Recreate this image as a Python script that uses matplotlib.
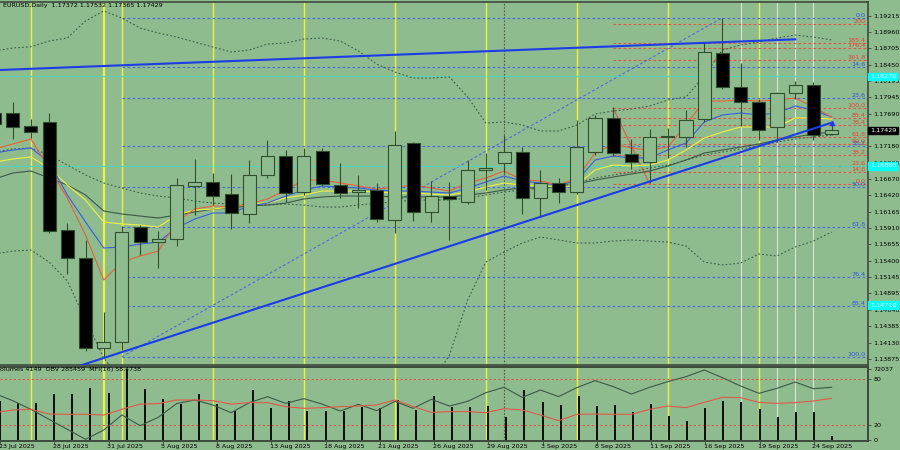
import matplotlib
matplotlib.use('Agg')
import matplotlib.pyplot as plt
import matplotlib.transforms as mtransforms
import pandas as pd

bg = '#8fbc8f'
dark = '#2f4f2f'

# daily bars 23 Jul .. 25 Sep 2025
days = pd.bdate_range('2025-07-23', '2025-09-25')
xs = list(range(len(days)))

opens = [1.17700, 1.17701, 1.17503, 1.17556, 1.15880, 1.15449, 1.14039, 1.14142, 1.15932, 1.15693,
         1.15735, 1.16565, 1.16632, 1.16436, 1.16129, 1.16731, 1.17032, 1.16467, 1.17114, 1.16580,
         1.16471, 1.16503, 1.16036, 1.17229, 1.16165, 1.16409, 1.16321, 1.16809, 1.16927, 1.17099,
         1.16383, 1.16607, 1.16476, 1.17099, 1.17618, 1.17063, 1.16938, 1.17340, 1.17323, 1.17603,
         1.18630, 1.18110, 1.17877, 1.17478, 1.18007, 1.18132, 1.17372]
highs = [1.17825, 1.17872, 1.17607, 1.17701, 1.15984, 1.15725, 1.14604, 1.15942, 1.15958, 1.15865,
         1.16685, 1.16980, 1.16772, 1.16752, 1.16969, 1.17281, 1.17125, 1.17151, 1.17151, 1.16927,
         1.16736, 1.16616, 1.17421, 1.17254, 1.16643, 1.16632, 1.16969, 1.17083, 1.17358, 1.17176,
         1.16814, 1.16685, 1.17592, 1.17670, 1.17789, 1.17292, 1.17447, 1.17472, 1.17747, 1.18795,
         1.19174, 1.18474, 1.17914, 1.18028, 1.18199, 1.18188, 1.17532]
lows = [1.17358, 1.17296, 1.17312, 1.15838, 1.15196, 1.13997, 1.13889, 1.14013, 1.15491, 1.15284,
        1.15631, 1.16114, 1.16269, 1.15891, 1.15984, 1.16689, 1.16316, 1.16425, 1.16565, 1.16383,
        1.16218, 1.16009, 1.15829, 1.16025, 1.16009, 1.15725, 1.16285, 1.16503, 1.16762, 1.16124,
        1.16078, 1.16296, 1.16436, 1.17047, 1.17032, 1.16825, 1.16616, 1.16996, 1.17176, 1.17565,
        1.18070, 1.17498, 1.17281, 1.17254, 1.17914, 1.17281, 1.17365]
closes = [1.17530, 1.17483, 1.17410, 1.15869, 1.15449, 1.14039, 1.14133, 1.15854, 1.15698, 1.15735,
          1.16580, 1.16632, 1.16409, 1.16140, 1.16731, 1.17032, 1.16461, 1.17036, 1.16596, 1.16451,
          1.16503, 1.16047, 1.17203, 1.16165, 1.16409, 1.16367, 1.16814, 1.16845, 1.17089, 1.16383,
          1.16607, 1.16476, 1.17176, 1.17618, 1.17074, 1.16943, 1.17323, 1.17324, 1.17592, 1.18655,
          1.18101, 1.17877, 1.17436, 1.18017, 1.18132, 1.17358, 1.17429]

# moving averages / bands
ma_red = [1.17141, 1.17218, 1.17296, 1.16845, 1.16378, 1.15802, 1.15102, 1.15382, 1.15476, 1.15553,
          1.16005, 1.16207, 1.16254, 1.16238, 1.16285, 1.16363, 1.16503, 1.16658, 1.16658, 1.16612,
          1.16565, 1.16518, 1.16549, 1.16580, 1.16534, 1.16487, 1.16612, 1.16689, 1.16798, 1.16658,
          1.16643, 1.16580, 1.16689, 1.17078, 1.17218, 1.17156, 1.17125, 1.17172, 1.17514, 1.17887,
          1.17887, 1.17903, 1.17887, 1.17903, 1.17934, 1.17794, 1.17638]
ma_blue = [1.17078, 1.17125, 1.17156, 1.16938, 1.16425, 1.16005, 1.15600, 1.15616, 1.15662, 1.15693,
           1.15911, 1.16051, 1.16145, 1.16145, 1.16254, 1.16300, 1.16409, 1.16503, 1.16565, 1.16549,
           1.16534, 1.16503, 1.16487, 1.16487, 1.16471, 1.16456, 1.16534, 1.16627, 1.16720, 1.16643,
           1.16612, 1.16580, 1.16643, 1.16969, 1.17032, 1.17001, 1.17001, 1.17125, 1.17234, 1.17561,
           1.17670, 1.17701, 1.17670, 1.17701, 1.17810, 1.17747, 1.17638]
ma_yellow = [1.16938, 1.16985, 1.17016, 1.16845, 1.16580, 1.16347, 1.16005, 1.15974, 1.15958, 1.15927,
             1.16114, 1.16191, 1.16207, 1.16238, 1.16285, 1.16300, 1.16378, 1.16425, 1.16487, 1.16487,
             1.16487, 1.16471, 1.16456, 1.16456, 1.16440, 1.16425, 1.16471, 1.16549, 1.16612, 1.16580,
             1.16565, 1.16549, 1.16580, 1.16814, 1.16892, 1.16876, 1.16892, 1.16969, 1.17125, 1.17312,
             1.17405, 1.17483, 1.17483, 1.17483, 1.17623, 1.17623, 1.17607]
ma_dark = [1.16674, 1.16767, 1.16798, 1.16689, 1.16580, 1.16425, 1.16176, 1.16129, 1.16098, 1.16067,
           1.16114, 1.16160, 1.16207, 1.16223, 1.16254, 1.16269, 1.16300, 1.16363, 1.16394, 1.16409,
           1.16409, 1.16409, 1.16394, 1.16394, 1.16394, 1.16394, 1.16425, 1.16456, 1.16503, 1.16534,
           1.16534, 1.16549, 1.16596, 1.16658, 1.16705, 1.16752, 1.16798, 1.16876, 1.16969, 1.17078,
           1.17125, 1.17172, 1.17218, 1.17281, 1.17327, 1.17374, 1.17405]
bb_upper = [1.18665, 1.18712, 1.18732, 1.18821, 1.18868, 1.19132, 1.19288, 1.19179, 1.19023, 1.18946,
            1.18883, 1.18805, 1.18728, 1.18650, 1.18681, 1.18774, 1.18790, 1.18852, 1.18868, 1.18821,
            1.18665, 1.18463, 1.18339, 1.18245, 1.18245, 1.18261, 1.17950, 1.17545, 1.17561, 1.17514,
            1.17421, 1.17421, 1.17514, 1.17685, 1.17732, 1.17763, 1.17810, 1.17903, 1.17950, 1.18276,
            1.18681, 1.18759, 1.18805, 1.18868, 1.18914, 1.18883, 1.18837]
bb_mid = [1.17094, 1.17141, 1.17156, 1.17047, 1.16892, 1.16736, 1.16612, 1.16534, 1.16456, 1.16409,
          1.16378, 1.16331, 1.16300, 1.16285, 1.16269, 1.16269, 1.16285, 1.16269, 1.16238, 1.16238,
          1.16269, 1.16300, 1.16316, 1.16347, 1.16347, 1.16347, 1.16378, 1.16425, 1.16471, 1.16503,
          1.16534, 1.16565, 1.16612, 1.16689, 1.16736, 1.16783, 1.16845, 1.16892, 1.16969, 1.17047,
          1.17094, 1.17141, 1.17187, 1.17249, 1.17296, 1.17327, 1.17358]
bb_lower = [1.15507, 1.15553, 1.15569, 1.15382, 1.15087, 1.14480, 1.13889, 1.13546, 1.13391, 1.13300,
            1.13250, 1.13220, 1.13200, 1.13200, 1.13220, 1.13250, 1.13280, 1.13300, 1.13320, 1.13350,
            1.13380, 1.13400, 1.13420, 1.13450, 1.13500, 1.13935, 1.14791, 1.15382, 1.15538, 1.15678,
            1.15771, 1.15725, 1.15678, 1.15678, 1.15709, 1.15725, 1.15709, 1.15693, 1.15631, 1.15382,
            1.15336, 1.15367, 1.15507, 1.15476, 1.15616, 1.15709, 1.15849]

# lower window
volumes = [40000, 38150, 38150, 46980, 46670, 52760, 48300, 72037, 52050, 42210,
           36830, 47280, 36530, 29730, 51030, 32470, 40180, 29730, 29730, 29730,
           34090, 33080, 40890, 30740, 44950, 34090, 34090, 34800, 23340, 51030,
           38860, 35510, 44950, 35110, 35810, 29020, 36530, 24650, 19890, 32470,
           40180, 38550, 31450, 23340, 28410, 29020, 4149]
obv_line = [61.0, 51.7, 40.4, 27.3, 14.3, 1.3, 13.4, 33.0, 19.1, 30.0,
            47.8, 52.6, 46.0, 36.0, 49.1, 56.9, 48.2, 54.3, 47.3, 38.2,
            46.9, 38.7, 50.8, 41.7, 53.4, 44.7, 50.8, 62.1, 69.1, 56.0,
            65.6, 57.0, 68.7, 77.8, 70.0, 60.4, 69.1, 76.5, 83.0, 91.7,
            81.7, 70.8, 61.3, 67.8, 76.0, 67.3, 69.1]
mfi = [36.0, 39.5, 40.4, 34.3, 33.9, 33.9, 33.0, 40.4, 47.3, 47.7,
       52.6, 52.6, 51.7, 47.3, 49.1, 49.1, 43.9, 41.7, 42.6, 43.9,
       44.7, 46.1, 52.6, 43.9, 36.5, 37.4, 37.4, 36.0, 41.3, 39.5,
       33.0, 25.6, 33.9, 34.3, 33.9, 33.9, 40.4, 44.7, 42.6, 49.5,
       56.0, 55.6, 49.5, 48.2, 49.1, 51.3, 54.7]

# fibonacci objects
fib_blue_levels = ['0.0', '14.6', '23.6', '38.2', '50.0', '61.8', '76.4', '85.4', '100.0']
fib_blue_prices = [1.19184, 1.18412, 1.17929, 1.17180, 1.16545, 1.15922, 1.15154, 1.14702, 1.13909]
fib_red_levels = ['200', '185.4', '176.4', '161.8', '100.0', '85.4', '76.4', '61.8', '50.0',
                  '38.2', '23.6', '14.6', '0.0']
fib_red_prices = [1.19081, 1.18795, 1.18707, 1.18525, 1.17774, 1.17618, 1.17514, 1.17332, 1.17214,
                  1.17047, 1.16876, 1.16778, 1.16596]
fib_blue_start, fib_red_start = 7, 34
fib_blue_diag = ([7, 40], [1.13909, 1.19184])
fib_red_diag = ([34, 36], [1.17774, 1.16596])

trend_upper = ([-2, 44], [1.18345, 1.18847])
trend_lower = ([4, 46], [1.13706, 1.17550])
hlines_teal = [1.18276, 1.16884]
marks_cyan = ['1.18270', '1.16880', '1.14710']
last_price = '1.17429'

yellow_bars = [2, 6, 7, 12, 17, 22, 27, 32, 37, 42]
white_bars = [41, 43, 44, 45]
month_bar = 28

price_ticks = ['1.19215', '1.18960', '1.18705', '1.18450', '1.18195', '1.17945', '1.17690',
               '1.17435', '1.17180', '1.16925', '1.16670', '1.16420', '1.16165', '1.15910',
               '1.15655', '1.15400', '1.15145', '1.14895', '1.14640', '1.14385', '1.14130', '1.13875']

fs = 4.6
fig = plt.figure(figsize=(9, 4.5), dpi=100, facecolor=bg)
ax = fig.add_axes([0, 1 - 365 / 450, 868 / 900, 363 / 450], facecolor=bg)
ax2 = fig.add_axes([0, 1 - 441 / 450, 868 / 900, 74 / 450], facecolor=bg)
axv = fig.add_axes([0, 1 - 441 / 450, 868 / 900, 74 / 450], facecolor='none')

for a in (ax, ax2, axv):
    a.set_xlim(0.3, 48.0)
    for s in a.spines.values():
        s.set_color('#3c4a3c')
        s.set_linewidth(1.2)
    a.spines['left'].set_visible(False)
    a.yaxis.tick_right()
    a.tick_params(axis='y', length=2.5, width=0.6, color='#3c4a3c', labelsize=fs, pad=1.5)
ax.set_ylim(1.13780, 1.19428)
ax2.set_ylim(-0.9, 95.6)
axv.set_ylim(-710, 74370)
ax.set_xticks([])

# vertical separators
for a in (ax, ax2):
    for b in yellow_bars:
        a.axvline(b, color='#f0f040', lw=1.6 if b == 6 else 1.0, zorder=1)
    for b in white_bars:
        a.axvline(b, color='#e8f0e8', lw=0.8, alpha=0.8, zorder=1)
    a.axvline(month_bar, color='#4a5a4a', lw=0.8, ls=(0, (1.5, 1.5)), zorder=1)

# fibo levels
for lv, p in zip(fib_blue_levels, fib_blue_prices):
    ax.plot([fib_blue_start, 48.0], [p, p], color='#4a6ae0', lw=0.8, ls=(0, (2.5, 2)), zorder=1.5)
    ax.text(0.997, p, lv, color='#3050e8', fontsize=fs, ha='right', va='bottom',
            transform=mtransforms.blended_transform_factory(ax.transAxes, ax.transData), zorder=6)
for lv, p in zip(fib_red_levels, fib_red_prices):
    ax.plot([fib_red_start, 48.0], [p, p], color='#e0584a', lw=0.8, ls=(0, (2.5, 2)), zorder=1.5)
    ax.text(0.997, p, lv, color='#e84030', fontsize=fs, ha='right', va='bottom',
            transform=mtransforms.blended_transform_factory(ax.transAxes, ax.transData), zorder=6)
ax.plot(*fib_blue_diag, color='#4a6ae0', lw=0.8, ls=(0, (2.5, 2)), zorder=1.5)
ax.plot(*fib_red_diag, color='#e0584a', lw=0.8, zorder=1.5)
for p in hlines_teal:
    ax.axhline(p, color='#48d8c0', lw=0.8, ls=(0, (5, 1)), zorder=1.5)

# indicators
ax.plot(xs, bb_upper, color='#3c5a46', lw=0.8, ls=(0, (1.5, 2)), zorder=2)
ax.plot(xs, bb_mid, color='#3c5a46', lw=0.8, ls=(0, (1.5, 2)), zorder=2)
ax.plot(xs, bb_lower, color='#3c5a46', lw=0.8, ls=(0, (1.5, 2)), zorder=2)
ax.plot(xs, ma_dark, color='#3c5a46', lw=0.8, zorder=2)
ax.plot(xs, ma_yellow, color='#f0f040', lw=0.8, zorder=2)
ax.plot(xs, ma_blue, color='#3a5ee0', lw=0.8, zorder=2)
ax.plot(xs, ma_red, color='#e8603c', lw=0.8, zorder=2)

# candles
ax.vlines(xs, lows, highs, color=dark, lw=0.8, zorder=2.9)
for x, o, c in zip(xs, opens, closes):
    h = max(abs(c - o), 0.00008)
    bull = c >= o
    ax.bar(x, h, bottom=min(o, c), width=0.72, facecolor=bg if bull else 'black',
           edgecolor=dark, linewidth=0.8, zorder=3)

# trend lines
ax.plot(*trend_upper, color='#1c3ce8', lw=1.5, zorder=4)
ax.plot(*trend_lower, color='#1c3ce8', lw=1.5, zorder=4)
ax.plot(trend_lower[0][1], trend_lower[1][1], marker='^', ms=3, color='#1c3ce8', zorder=4)

# right price scale
ax.set_yticks([float(t) for t in price_ticks])
ax.set_yticklabels(price_ticks)
ty = mtransforms.blended_transform_factory(ax.transAxes, ax.transData)
for m in marks_cyan:
    ax.text(1.002, float(m), m, color='white', fontsize=fs, va='center', ha='left', transform=ty,
            bbox=dict(facecolor='#00ffff', edgecolor='#00ffff', pad=1.0), clip_on=False, zorder=10)
ax.text(1.002, float(last_price), last_price, color='white', fontsize=fs, va='center', ha='left',
        transform=ty, bbox=dict(facecolor='black', edgecolor='black', pad=1.0), clip_on=False, zorder=10)

# lower window
axv.vlines(xs, 0, volumes, color='black', lw=1.3, zorder=2)
ax2.axhline(80, color='#e0584a', lw=0.8, ls=(0, (2, 2)), zorder=1.5)
ax2.axhline(20, color='#e0584a', lw=0.8, ls=(0, (2, 2)), zorder=1.5)
axv.plot(xs, [v * 72037 / 93.3 for v in obv_line], alpha=0)
ax2.set_zorder(1)
axv.set_zorder(2)
axv.plot([], [])
ax2.set_yticks([80, 20, 0])
ax2.set_yticklabels(['80', '20', '0'])
axv.set_yticks([72037])
axv.set_yticklabels(['72037'])
axv.yaxis.set_tick_params(pad=1.5)
ax2.set_xticks([])
axv.set_xticks(xs[::3])
axv.tick_params(axis='x', length=2, width=0.6, color='#3c4a3c', labelbottom=False)
# MFI and OBV lines drawn on top of the volume bars
axl = fig.add_axes([0, 1 - 441 / 450, 868 / 900, 74 / 450], facecolor='none')
axl.set_xlim(0.3, 48.0)
axl.set_ylim(-0.9, 95.6)
axl.axis('off')
axl.set_zorder(3)
axl.plot(xs, obv_line, color='#3c5a46', lw=0.8)
axl.plot(xs, mfi, color='#e0584a', lw=0.8)

for i in xs[::3]:
    axv.text(i - 0.07, -0.08, '%d %s' % (days[i].day, days[i].strftime('%b %Y')), fontsize=fs,
             ha='left', va='center', transform=mtransforms.blended_transform_factory(axv.transData, axv.transAxes),
             clip_on=False)

fig.text(3 / 900, 1 - 6 / 450, 'EURUSD,Daily  1.17372 1.17532 1.17365 1.17429', fontsize=fs, va='center')
fig.text(-4 / 900, 1 - 369.5 / 450, 'Volumes 4149  OBV 285459  MFI(16) 58.4738', fontsize=fs, va='center')

fig.savefig('out.png', dpi=100, facecolor=bg)
